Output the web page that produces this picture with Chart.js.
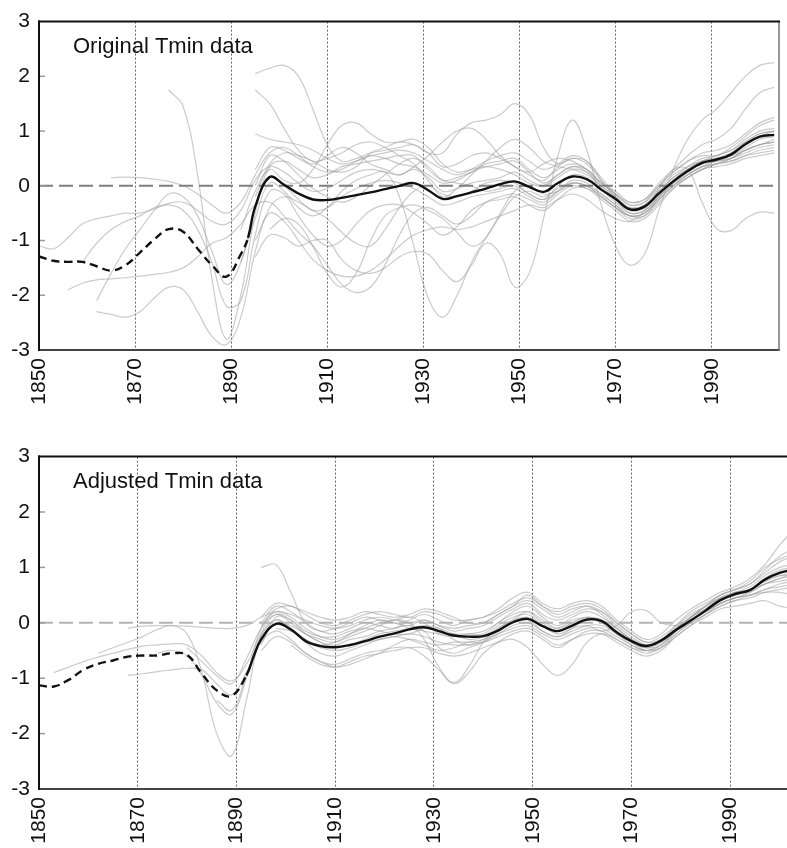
<!DOCTYPE html>
<html>
<head>
<meta charset="utf-8">
<script src="https://cdn.jsdelivr.net/npm/chart.js@4.4.0/dist/chart.umd.min.js"></script>
<style>
  html, body { margin: 0; padding: 0; background: #fff; }
  body { width: 787px; height: 848px; position: relative; overflow: hidden; }
  canvas { position: absolute; left: 0; }
  #topChart { top: 0; }
  #bottomChart { top: 435px; }
</style>
</head>
<body>
<canvas id="topChart" width="787" height="410"></canvas>
<canvas id="bottomChart" width="787" height="413"></canvas>
<script>
// station years (3-yearly smoothed readings)
const years = [1850, 1853, 1856, 1859, 1862, 1865, 1868, 1871, 1874, 1877,
  1880, 1883, 1886, 1889, 1892, 1895, 1898, 1901, 1904, 1907,
  1910, 1913, 1916, 1919, 1922, 1925, 1928, 1931, 1934, 1937,
  1940, 1943, 1946, 1949, 1952, 1955, 1958, 1961, 1964, 1967,
  1970, 1973, 1976, 1979, 1982, 1985, 1988, 1991, 1994, 1997,
  2000, 2003];
const tickYears = [1850, 1870, 1890, 1910, 1930, 1950, 1970, 1990];
const yTicks = [-3, -2, -1, 0, 1, 2, 3];

// regional mean (black line)
const meanYears = [1850, 1853, 1856, 1859, 1862, 1865, 1868, 1871, 1874, 1877,
  1880, 1883, 1886, 1889, 1892, 1893.5, 1895, 1898, 1901, 1904, 1907,
  1910, 1913, 1916, 1919, 1922, 1925, 1928, 1931, 1934, 1937,
  1940, 1943, 1946, 1949, 1952, 1955, 1958, 1961, 1964, 1967,
  1970, 1973, 1976, 1979, 1982, 1985, 1988, 1991, 1994, 1997,
  2000, 2003];
const meanOriginal = [-1.29, -1.37, -1.39, -1.39, -1.47, -1.55, -1.45, -1.22, -0.98, -0.79,
  -0.84, -1.15, -1.45, -1.66, -1.25, -0.95, -0.38, 0.16, 0.02, -0.14, -0.25,
  -0.26, -0.22, -0.17, -0.12, -0.06, 0.00, 0.05, -0.08, -0.24, -0.19,
  -0.12, -0.05, 0.03, 0.08, -0.02, -0.11, 0.05, 0.17, 0.12, -0.07,
  -0.24, -0.43, -0.38, -0.14, 0.08, 0.27, 0.42, 0.48, 0.57, 0.76,
  0.90, 0.93];
const meanAdjusted = [-1.13, -1.15, -1.03, -0.85, -0.74, -0.68, -0.61, -0.59, -0.59, -0.55,
  -0.58, -0.92, -1.22, -1.32, -0.95, -0.60, -0.30, -0.02, -0.12, -0.33, -0.42,
  -0.44, -0.40, -0.33, -0.25, -0.19, -0.12, -0.08, -0.15, -0.23, -0.25,
  -0.24, -0.14, 0.01, 0.07, -0.06, -0.15, -0.05, 0.06, 0.03, -0.17,
  -0.33, -0.42, -0.32, -0.13, 0.04, 0.22, 0.41, 0.52, 0.59, 0.78,
  0.90, 0.96];
const dashEndOriginal = 1893.5;
const dashEndAdjusted = 1892;

// original station series (grey), first year in origStart
const orig01 = [1.75, 1.45, 0.20, -1.70, -2.80, -2.00, -0.50, 0.35, 0.45, 0.30, 0.15, 0.20, 0.35, 0.40, 0.45, 0.50, 0.55, 0.55, 0.30, 0.10, 0.15, 0.25, 0.40, 0.45, 0.50, 0.30, 0.15, 0.30, 0.40, 0.30, 0.05, -0.15, -0.35, -0.30, 0.00, 0.25, 0.45, 0.55, 0.55, 0.70, 0.90, 1.10, 1.20];
const orig02 = [2.05, 2.15, 2.20, 2.00, 1.40, 0.75, 0.45, 0.50, 0.60, 0.65, 0.70, 0.75, 0.60, 0.35, 0.40, 0.55, 0.60, 0.50, 0.35, 0.20, 0.10, 0.35, 0.50, 0.40, 0.10, -0.20, -0.45, -0.40, -0.15, 0.10, 0.30, 0.45, 0.50, 0.55, 0.70, 0.85, 0.90];
const orig03 = [1.75, 1.50, 1.05, 0.65, 0.45, 0.50, 0.60, 0.75, 0.80, 0.70, 0.55, 0.40, 0.10, -0.20, -0.05, 0.20, 0.45, 0.70, 0.85, 0.70, 0.45, 0.35, 0.30, 0.20, 0.00, -0.25, -0.50, -0.45, -0.20, 0.05, 0.25, 0.40, 0.45, 0.50, 0.65, 0.75, 0.80];
const orig04 = [0.95, 0.85, 0.80, 0.75, 0.65, 0.50, 0.40, 0.45, 0.55, 0.60, 0.65, 0.60, 0.45, 0.30, 0.20, 0.30, 0.45, 0.55, 0.60, 0.45, 0.30, 0.40, 0.55, 0.45, 0.15, -0.15, -0.35, -0.30, -0.05, 0.20, 0.35, 0.45, 0.50, 0.60, 0.75, 0.90, 1.00];
const orig05 = [-0.80, -0.10, 0.30, 0.10, 0.05, 0.30, 0.75, 1.10, 1.15, 0.95, 0.80, 0.80, 0.85, 0.70, 0.40, 0.25, 0.30, 0.35, 0.30, 0.20, 0.05, 0.00, 0.20, 0.35, 0.25, -0.05, -0.30, -0.50, -0.45, -0.20, 0.05, 0.20, 0.35, 0.40, 0.50, 0.65, 0.75, 0.80];
const orig06 = [-1.40, -0.60, 0.05, -0.10, -0.40, -0.55, -0.40, -0.10, 0.10, 0.20, 0.25, -0.20, -1.10, -2.05, -2.40, -2.00, -1.40, -0.95, -0.55, -0.20, -0.10, -0.20, -0.05, 0.05, 0.00, -0.15, -0.35, -0.55, -0.50, -0.25, 0.00, 0.20, 0.35, 0.45, 0.50, 0.60, 0.70, 0.75];
const orig07 = [-0.20, 0.40, 0.60, 0.55, 0.45, 0.30, 0.25, 0.35, 0.60, 0.70, 0.80, 0.75, 0.60, 0.60, 0.95, 1.15, 1.20, 1.30, 1.50, 1.30, 0.70, 0.40, 0.50, 0.45, 0.10, -0.20, -0.40, -0.35, -0.10, 0.15, 0.35, 0.50, 0.55, 0.65, 0.85, 1.00, 1.05];
const orig08 = [-1.30, -0.90, -0.95, -1.10, -1.00, -1.00, -1.35, -1.55, -1.60, -1.50, -1.30, -1.20, -1.25, -1.55, -1.75, -1.45, -1.05, -1.25, -1.85, -1.60, -0.60, 0.55, 1.20, 0.65, -0.35, -1.10, -1.45, -1.25, -0.45, 0.30, 0.85, 1.20, 1.40, 1.70, 2.00, 2.20, 2.25];
const orig09 = [-1.00, -0.50, -0.65, -1.00, -1.35, -1.55, -1.65, -1.65, -1.55, -1.35, -1.10, -0.90, -0.80, -0.75, -0.80, -0.75, -0.65, -0.55, -0.45, -0.35, -0.40, -0.25, -0.15, -0.25, -0.45, -0.60, -0.65, -0.45, -0.05, 0.30, 0.30, -0.30, -0.78, -0.82, -0.60, -0.48, -0.50];
const orig10 = [-1.10, -1.15, -0.95, -0.70, -0.60, -0.55, -0.50, -0.50, -0.42, -0.32, -0.30, -0.45, -0.65, -0.70, -0.45, 0.10, 0.35, 0.25, 0.05, -0.10, -0.05, 0.10, 0.25, 0.30, 0.25, 0.20, 0.30, 0.15, -0.10, -0.05, 0.05, 0.10, 0.15, 0.25, 0.10, 0.00, 0.15, 0.30, 0.25, 0.00, -0.20, -0.40, -0.35, -0.10, 0.15, 0.30, 0.45, 0.50, 0.60, 0.80, 0.95, 1.00];
const orig11 = [-1.90, -1.78, -1.72, -1.70, -1.68, -1.65, -1.62, -1.58, -1.50, -1.30, -1.05, -0.95, -0.70, -0.35, -0.30, -0.55, -0.85, -1.10, -1.45, -1.80, -1.95, -1.85, -1.45, -0.90, -0.50, -0.40, -0.55, -0.70, -0.55, -0.30, -0.20, -0.15, -0.25, -0.35, -0.15, 0.00, -0.05, -0.20, -0.40, -0.55, -0.50, -0.25, 0.00, 0.15, 0.30, 0.40, 0.45, 0.55, 0.60, 0.65];
const orig12 = [-2.30, -2.35, -2.40, -2.30, -2.05, -1.85, -1.90, -2.30, -2.75, -2.90, -2.40, -1.20, -0.40, -0.20, -0.30, -0.45, -0.60, -0.85, -1.05, -1.10, -0.80, -0.40, -0.10, 0.00, -0.15, -0.20, -0.10, 0.05, 0.10, 0.05, -0.15, -0.25, -0.10, 0.10, 0.05, -0.15, -0.35, -0.55, -0.55, -0.30, -0.05, 0.15, 0.30, 0.40, 0.50, 0.65, 0.75, 0.85];
const orig13 = [-2.10, -1.60, -1.15, -0.80, -0.45, -0.15, -0.20, -0.55, -1.20, -1.80, -1.40, -0.40, 0.15, 0.00, -0.25, -0.45, -0.40, -0.20, -0.05, 0.05, 0.10, 0.05, -0.05, -0.20, -0.35, -0.30, -0.20, -0.15, -0.10, -0.05, -0.20, -0.30, -0.10, 0.05, 0.00, -0.20, -0.40, -0.60, -0.55, -0.25, 0.00, 0.20, 0.35, 0.40, 0.45, 0.55, 0.65, 0.70];
const orig14 = [0.15, 0.16, 0.15, 0.12, 0.08, 0.00, -0.15, -0.35, -0.50, -0.30, 0.20, 0.60, 0.70, 0.55, 0.35, 0.25, 0.30, 0.45, 0.55, 0.50, 0.40, 0.35, 0.20, 0.05, 0.10, 0.25, 0.35, 0.40, 0.45, 0.25, 0.05, 0.20, 0.35, 0.30, 0.05, -0.15, -0.30, -0.25, 0.00, 0.25, 0.45, 0.60, 0.65, 0.75, 0.95, 1.15, 1.25];
const orig15 = [-1.40, -1.05, -0.80, -0.65, -0.55, -0.40, -0.35, -0.45, -0.80, -1.40, -2.20, -2.10, -0.90, -0.10, -0.15, -0.55, -0.90, -1.10, -1.00, -0.70, -0.45, -0.35, -0.35, -0.50, -0.70, -0.90, -0.75, -0.45, -0.30, -0.25, -0.20, -0.35, -0.45, -0.25, -0.05, -0.05, -0.25, -0.45, -0.65, -0.60, -0.35, -0.05, 0.15, 0.30, 0.35, 0.40, 0.50, 0.55, 0.60];
const orig16 = [0.00, 0.55, 0.45, 0.20, -0.05, -0.20, -0.30, -0.20, 0.00, 0.20, 0.40, 0.50, 0.35, 0.10, 0.05, 0.00, -0.10, -0.05, 0.00, -0.15, -0.25, 0.00, 0.20, 0.15, -0.05, -0.25, -0.45, -0.40, -0.15, 0.10, 0.30, 0.45, 0.55, 0.65, 0.80, 0.95, 1.00];
const orig17 = [-0.80, -0.60, -0.70, -1.10, -1.60, -1.85, -1.60, -1.00, -0.55, -0.40, -0.35, -0.45, -0.60, -0.85, -1.10, -0.95, -0.50, -0.10, 0.00, -0.15, -0.10, 0.05, 0.00, -0.20, -0.40, -0.55, -0.50, -0.20, 0.05, 0.25, 0.40, 0.45, 0.55, 0.65, 0.75, 0.80];
const orig18 = [0.30, 0.70, 0.65, 0.50, 0.40, 0.55, 0.70, 0.60, 0.40, 0.30, 0.20, 0.35, 0.55, 0.80, 1.00, 1.05, 0.85, 0.55, 0.35, 0.25, 0.40, 0.50, 0.45, 0.30, 0.05, -0.10, -0.30, -0.25, 0.05, 0.30, 0.55, 0.75, 0.85, 1.05, 1.40, 1.70, 1.80];
const origSeries = [orig01, orig02, orig03, orig04, orig05, orig06, orig07, orig08, orig09,
  orig10, orig11, orig12, orig13, orig14, orig15, orig16, orig17, orig18];
const origStart = [1877, 1895, 1895, 1895, 1892, 1892, 1895, 1895, 1895,
  1850, 1856, 1862, 1862, 1865, 1859, 1895, 1898, 1895];

// adjusted station series (grey)
const adj01 = [1.00, 1.05, 0.55, 0.00, -0.15, -0.10, 0.00, 0.10, 0.05, 0.00, -0.05, 0.05, -0.05, -0.15, -0.10, -0.05, 0.10, 0.25, 0.35, 0.15, 0.05, 0.15, 0.25, 0.20, 0.00, -0.20, -0.35, -0.25, -0.05, 0.15, 0.30, 0.45, 0.55, 0.65, 0.85, 1.00, 1.05];
const adj02 = [-0.55, -0.45, -0.35, -0.25, -0.12, -0.05, -0.20, -0.90, -2.00, -2.40, -1.40, -0.20, 0.15, 0.05, -0.20, -0.35, -0.40, -0.30, -0.25, -0.15, -0.10, -0.05, -0.15, -0.45, -0.55, -0.45, -0.35, -0.15, 0.00, 0.05, -0.15, -0.25, -0.10, 0.05, 0.00, -0.20, -0.35, -0.45, -0.35, -0.15, 0.05, 0.20, 0.40, 0.50, 0.60, 0.75, 0.85, 0.90];
const adj03 = [-0.10, -0.06, -0.05, -0.05, -0.06, -0.08, -0.10, -0.10, -0.05, 0.10, 0.20, 0.15, 0.05, -0.05, -0.10, -0.05, 0.05, 0.10, 0.05, 0.00, 0.05, -0.05, -0.10, -0.05, 0.00, 0.15, 0.30, 0.40, 0.25, 0.10, 0.20, 0.30, 0.20, -0.05, -0.25, -0.40, -0.30, -0.10, 0.10, 0.30, 0.45, 0.55, 0.60, 0.75, 0.85, 0.85];
const adj04 = [-0.90, -0.80, -0.70, -0.62, -0.55, -0.48, -0.42, -0.40, -0.38, -0.40, -0.60, -0.90, -1.05, -0.75, -0.20, 0.05, -0.10, -0.35, -0.55, -0.60, -0.50, -0.40, -0.30, -0.25, -0.20, -0.25, -0.35, -0.40, -0.40, -0.35, -0.20, -0.05, 0.00, -0.15, -0.25, -0.15, -0.05, -0.05, -0.20, -0.40, -0.50, -0.40, -0.15, 0.05, 0.20, 0.35, 0.45, 0.50, 0.60, 0.70, 0.75];
const adj05 = [-0.55, -0.50, -0.60, -0.95, -1.45, -1.65, -1.00, -0.10, 0.20, 0.10, -0.10, -0.25, -0.30, -0.20, -0.10, 0.00, 0.05, 0.10, 0.00, -0.20, -0.25, -0.20, -0.15, 0.00, 0.20, 0.30, 0.10, -0.05, 0.10, 0.20, 0.10, -0.10, -0.30, -0.40, -0.35, -0.15, 0.10, 0.30, 0.50, 0.60, 0.70, 0.90, 1.10, 1.20];
const adj06 = [-1.40, -1.58, -0.95, -0.25, 0.05, -0.10, -0.30, -0.45, -0.50, -0.45, -0.35, -0.30, -0.25, -0.30, -0.40, -0.50, -0.45, -0.35, -0.30, -0.20, -0.10, -0.05, -0.20, -0.30, -0.20, -0.10, -0.10, -0.25, -0.40, -0.50, -0.45, -0.20, 0.00, 0.15, 0.30, 0.40, 0.45, 0.55, 0.60, 0.65];
const adj07 = [-0.95, -0.92, -0.88, -0.85, -0.82, -0.85, -1.10, -1.30, -0.90, -0.35, -0.15, -0.30, -0.55, -0.70, -0.75, -0.65, -0.55, -0.50, -0.45, -0.45, -0.60, -0.85, -1.10, -0.90, -0.55, -0.35, -0.20, -0.15, -0.30, -0.45, -0.30, -0.15, -0.15, -0.30, -0.45, -0.55, -0.45, -0.25, -0.05, 0.10, 0.25, 0.30, 0.35, 0.40, 0.30, 0.25];
const adj08 = [-0.05, 0.25, 0.30, 0.15, 0.00, -0.05, 0.05, 0.15, 0.20, 0.15, 0.10, 0.20, 0.15, 0.05, 0.05, 0.10, 0.25, 0.45, 0.55, 0.35, 0.25, 0.35, 0.40, 0.30, 0.05, -0.15, -0.30, -0.20, 0.05, 0.25, 0.40, 0.55, 0.65, 0.80, 1.05, 1.40, 1.70];
const adj09 = [-0.50, -0.25, -0.35, -0.55, -0.70, -0.80, -0.75, -0.65, -0.55, -0.50, -0.45, -0.45, -0.55, -0.60, -0.55, -0.45, -0.35, -0.30, -0.45, -0.75, -0.95, -0.75, -0.35, -0.20, -0.30, -0.45, -0.50, -0.40, -0.15, 0.05, 0.20, 0.35, 0.45, 0.50, 0.60, 0.65, 0.70];
const adj10 = [-0.10, -0.15, -0.30, -0.40, -0.35, -0.25, -0.15, -0.05, 0.05, 0.00, -0.30, -0.80, -1.08, -0.80, -0.35, -0.10, 0.05, 0.10, -0.05, -0.15, 0.00, 0.10, 0.05, -0.10, -0.30, -0.40, -0.30, -0.10, 0.10, 0.25, 0.40, 0.50, 0.60, 0.70, 0.80, 0.85];
const adj11 = [-0.30, 0.00, -0.05, -0.20, -0.30, -0.35, -0.20, -0.05, 0.05, 0.00, -0.10, -0.15, -0.20, -0.20, -0.30, -0.25, -0.05, 0.10, 0.15, -0.05, -0.20, -0.10, -0.05, -0.15, -0.05, 0.20, 0.22, 0.00, -0.05, 0.05, 0.20, 0.35, 0.45, 0.55, 0.70, 0.75, 0.80];
const adj12 = [0.00, 0.30, 0.20, 0.00, -0.15, -0.20, -0.10, 0.00, -0.05, -0.10, 0.05, 0.15, 0.05, -0.05, 0.05, 0.10, 0.20, 0.35, 0.45, 0.30, 0.15, 0.25, 0.30, 0.15, -0.10, -0.30, -0.45, -0.40, -0.15, 0.10, 0.30, 0.50, 0.60, 0.75, 1.00, 1.15, 1.25];
const adj13 = [-0.40, -0.60, -0.75, -0.80, -0.70, -0.60, -0.55, -0.40, -0.30, -0.35, -0.40, -0.35, -0.35, -0.35, -0.25, -0.15, -0.10, -0.25, -0.40, -0.30, -0.20, -0.20, -0.35, -0.50, -0.60, -0.50, -0.25, -0.05, 0.15, 0.35, 0.45, 0.55, 0.70, 0.80, 0.90];
const adj14 = [-0.40, 0.10, 0.05, -0.15, -0.25, -0.25, -0.15, -0.10, -0.15, -0.20, -0.20, -0.10, -0.10, -0.20, -0.20, -0.20, 0.00, 0.15, 0.20, 0.00, -0.10, 0.05, 0.10, 0.05, -0.15, -0.35, -0.45, -0.35, -0.10, 0.10, 0.25, 0.45, 0.55, 0.60, 0.80, 0.95, 1.00];
const adj15 = [-0.45, -0.70, -0.95, -1.10, -0.65, -0.10, 0.15, 0.00, -0.20, -0.35, -0.45, -0.40, -0.30, -0.20, -0.15, -0.10, -0.05, -0.10, -0.30, -0.40, -0.30, -0.10, 0.05, 0.20, 0.05, -0.10, 0.00, 0.10, 0.00, -0.20, -0.35, -0.50, -0.45, -0.20, 0.00, 0.15, 0.30, 0.40, 0.50, 0.55, 0.55, 0.50];
const adj16 = [0.10, 0.35, 0.30, 0.20, 0.10, 0.05, 0.10, 0.20, 0.15, 0.10, 0.15, 0.25, 0.20, 0.10, 0.00, 0.00, 0.15, 0.30, 0.50, 0.30, 0.20, 0.30, 0.35, 0.25, 0.00, -0.20, -0.35, -0.30, -0.05, 0.20, 0.35, 0.50, 0.60, 0.70, 0.95, 1.20, 1.35];
const adjSeries = [adj01, adj02, adj03, adj04, adj05, adj06, adj07, adj08,
  adj09, adj10, adj11, adj12, adj13, adj14, adj15, adj16];
const adjStart = [1895, 1862, 1868, 1853, 1874, 1886, 1868, 1895,
  1895, 1898, 1895, 1895, 1901, 1895, 1880, 1895];

const FONT = '"Liberation Sans", Arial, Helvetica, sans-serif';

const panelPlugin = {
  id: 'panel',
  afterDraw(chart, args, opts) {
    const { ctx, chartArea: a } = chart;
    const ys = chart.scales.y;
    const seg = (x1, y1, x2, y2) => { ctx.beginPath(); ctx.moveTo(x1, y1); ctx.lineTo(x2, y2); ctx.stroke(); };
    ctx.save();
    // small inward tick marks on the y axis
    ctx.strokeStyle = '#999';
    ctx.lineWidth = 1.5;
    yTicks.forEach(v => {
      if (v > -3 && v < 3) {
        const py = ys.getPixelForValue(v);
        seg(a.left, py, a.left + 6, py);
      }
    });
    ctx.lineCap = 'square';
    ctx.strokeStyle = '#444';
    ctx.lineWidth = 2;
    seg(a.left, a.bottom, a.right, a.bottom);
    if (opts.rightBorder) {
      ctx.strokeStyle = '#777';
      ctx.lineWidth = 1.5;
      seg(a.right, a.top, a.right, a.bottom);
    }
    ctx.strokeStyle = '#111';
    ctx.lineWidth = 2;
    seg(a.left, a.bottom, a.left, a.top);
    seg(a.left, a.top, a.right, a.top);
    // panel caption
    ctx.fillStyle = '#111';
    ctx.font = '22px ' + FONT;
    ctx.textBaseline = 'alphabetic';
    ctx.fillText(opts.caption, a.left + 34, a.top + 31);
    ctx.restore();
  }
};

function buildPanel(canvasId, p) {
  const greyDatasets = p.series.map((vals, k) => {
    const off = years.indexOf(p.starts[k]);
    return {
      data: vals.map((v, i) => ({ x: years[off + i], y: v })),
      borderColor: 'rgba(160,160,160,0.55)',
      borderWidth: 1.2,
      tension: 0.4,
      pointRadius: 0
    };
  });
  const meanDataset = {
    data: p.mean.map((v, i) => ({ x: meanYears[i], y: v })),
    borderColor: '#111',
    borderWidth: 2.4,
    tension: 0.4,
    pointRadius: 0,
    segment: {
      borderDash: ctx => (ctx.p1.parsed.x <= p.dashEnd ? [8, 5] : undefined)
    }
  };
  const zeroDataset = {
    data: [{ x: 1850, y: 0 }, { x: p.xMax, y: 0 }],
    borderColor: p.zeroColor,
    borderWidth: 2,
    borderDash: [14, 6],
    pointRadius: 0
  };

  return new Chart(document.getElementById(canvasId), {
    type: 'line',
    data: { datasets: [meanDataset, zeroDataset, ...greyDatasets] },
    options: {
      responsive: false,
      animation: false,
      devicePixelRatio: 1,
      layout: { padding: { top: 15, right: p.rightPad, left: 0, bottom: 0 } },
      plugins: {
        legend: { display: false },
        tooltip: { enabled: false },
        panel: { caption: p.caption, rightBorder: p.rightBorder }
      },
      scales: {
        x: {
          type: 'linear',
          min: 1850,
          max: p.xMax,
          afterBuildTicks: s => { s.ticks = tickYears.map(v => ({ value: v })); },
          afterFit: s => { s.height = p.xAxisHeight; },
          ticks: {
            autoSkip: false,
            minRotation: 90,
            maxRotation: 90,
            padding: 8,
            color: '#111',
            font: { family: FONT, size: 21 },
            callback: v => String(v)
          },
          grid: {
            drawTicks: false,
            lineWidth: 1,
            color: ctx => (ctx.tick && ctx.tick.value === 1850 ? 'rgba(0,0,0,0)' : '#666')
          },
          border: { display: false, dash: [2, 2] }
        },
        y: {
          min: -3,
          max: 3,
          afterBuildTicks: s => { s.ticks = yTicks.map(v => ({ value: v })); },
          afterFit: s => { s.width = 39; },
          ticks: {
            padding: 9,
            color: '#111',
            font: { family: FONT, size: 21 }
          },
          grid: { display: false, drawTicks: false },
          border: { display: false }
        }
      }
    },
    plugins: [panelPlugin]
  });
}

buildPanel('topChart', {
  series: origSeries,
  starts: origStart,
  mean: meanOriginal,
  dashEnd: dashEndOriginal,
  xMax: 2004,
  rightPad: 8,
  xAxisHeight: 60,
  zeroColor: '#808080',
  caption: 'Original Tmin data',
  rightBorder: true
});

buildPanel('bottomChart', {
  series: adjSeries,
  starts: adjStart,
  mean: meanAdjusted,
  dashEnd: dashEndAdjusted,
  xMax: 2001.5,
  rightPad: 0,
  xAxisHeight: 59,
  zeroColor: '#b4b4b4',
  caption: 'Adjusted Tmin data',
  rightBorder: false
});
</script>
</body>
</html>
